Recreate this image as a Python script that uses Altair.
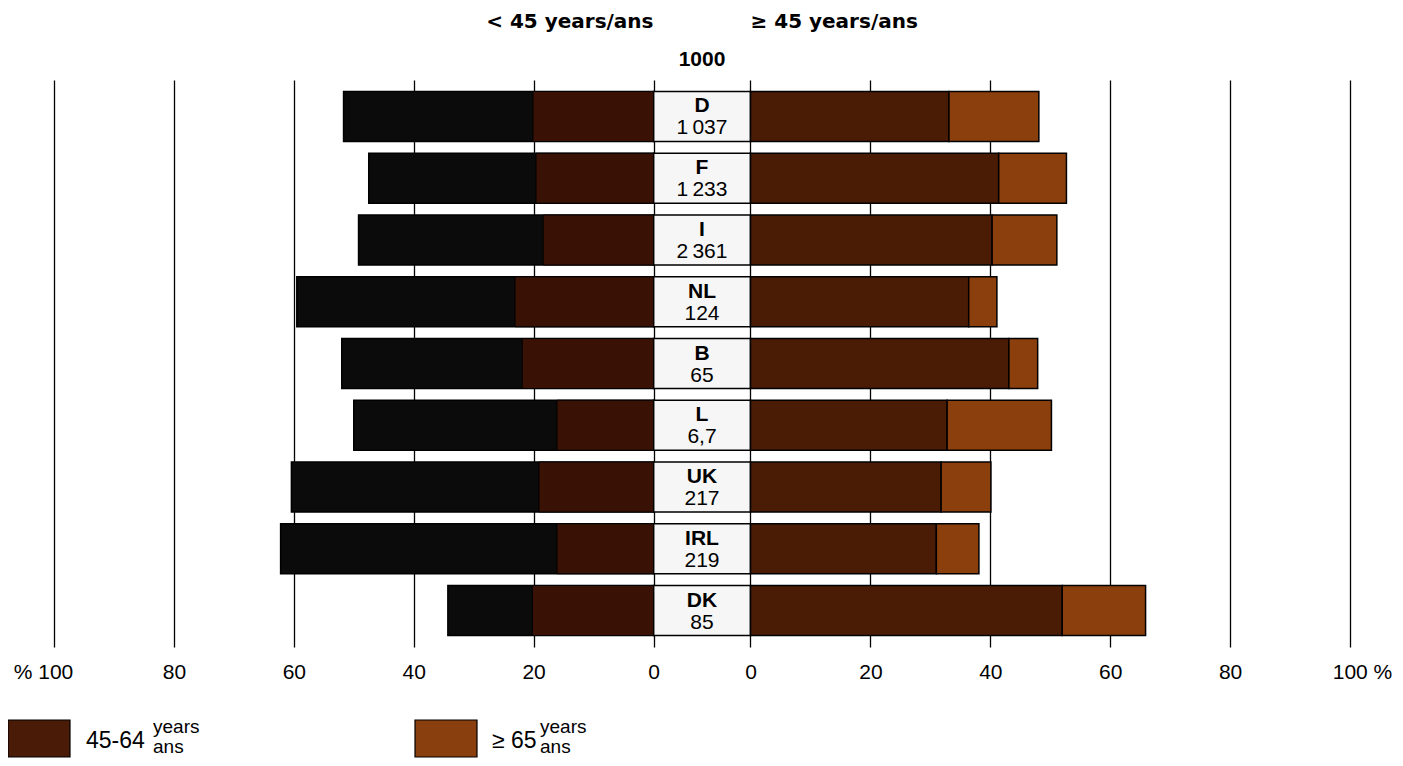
import altair as alt
import pandas as pd

# ---------------- data ----------------
countries = ["D", "F", "I", "NL", "B", "L", "UK", "IRL", "DK"]
holdings = ["1\u2009037", "1\u2009233", "2\u2009361", "124", "65", "6,7", "217", "219", "85"]
under45_total = [51.7, 47.5, 49.2, 59.5, 52.0, 50.0, 60.4, 62.2, 34.3]
under45_inner = [20.1, 19.6, 18.4, 23.1, 21.9, 16.1, 19.1, 16.1, 20.2]
age45_64 = [33.1, 41.4, 40.3, 36.4, 43.1, 32.8, 31.8, 31.0, 52.0]
age65_plus = [15.0, 11.3, 10.8, 4.7, 4.8, 17.4, 8.3, 7.1, 13.9]
tick_values = [0, 20, 40, 60, 80, 100]
header_left = "< 45 years/ans"
header_right = "\u2265 45 years/ans"
unit_label = "1000"
legend_labels = ["45-64", "\u2265 65"]

# ---------------- styling ----------------
G = 8.09  # half width of the centre label column, in % units
C_BLACK = "#0b0b0b"
C_LBROWN = "#3a1205"
C_RBROWN = "#4a1c06"
C_ORANGE = "#8b3f0d"
C_BOX = "#f6f6f6"
FONT = "Liberation Sans"

df = pd.DataFrame({
    "country": countries,
    "holdings": holdings,
    "u45": under45_total,
    "u45_in": under45_inner,
    "a4564": age45_64,
    "a65": age65_plus,
})

base = alt.Chart(df).transform_calculate(
    lb_x=f"-({G} + datum.u45)",
    lb_x2=f"-{G}",
    li_x=f"-({G} + datum.u45_in)",
    r1_x=f"{G}",
    r1_x2=f"{G} + datum.a4564",
    r2_x2=f"{G} + datum.a4564 + datum.a65",
    box_x=f"-{G}",
    box_x2=f"{G}",
    mid="0",
)

xscale = alt.Scale(domain=[-(100 + G), 100 + G], nice=False, zero=False)
yscale = alt.Scale(domain=countries, paddingInner=0.19, paddingOuter=0.186)

x_axis = alt.Axis(
    values=[-(v + G) for v in tick_values] + [v + G for v in tick_values],
    labelExpr=(
        "datum.value < -100 ? '% 100' : (datum.value > 100 ? '100 %' : "
        f"'' + round(abs(datum.value) - {G}))"
    ),
    grid=True, gridColor="black", gridWidth=1.3, gridOpacity=1,
    domain=False, ticks=False, tickSize=0,
    labelFont=FONT, labelFontSize=21, labelColor="black",
    labelPadding=14, labelFlush=False, labelOverlap=False,
    labelOffset={"condition": [{"test": "datum.value < -100", "value": -11},
                               {"test": "datum.value > 100", "value": 12}],
                 "value": 0},
    title=None,
)


def X(field):
    return alt.X(field, type="quantitative", scale=xscale, axis=x_axis, title=None)


def X2(field):
    return alt.X2(field)


Y = alt.Y("country:N", scale=yscale, sort=countries, axis=None)

boxes = base.mark_rect(fill=C_BOX, stroke="black", strokeWidth=1.5).encode(
    x=X("box_x"), x2=X2("box_x2"), y=Y)
left_black = base.mark_bar(fill=C_BLACK, stroke="black", strokeWidth=1.5).encode(
    x=X("lb_x"), x2=X2("lb_x2"), y=Y)
left_brown = base.mark_bar(fill=C_LBROWN, stroke="black", strokeWidth=1.0).encode(
    x=X("li_x"), x2=X2("lb_x2"), y=Y)
right_brown = base.mark_bar(fill=C_RBROWN, stroke="black", strokeWidth=1.5).encode(
    x=X("r1_x"), x2=X2("r1_x2"), y=Y)
right_orange = base.mark_bar(fill=C_ORANGE, stroke="black", strokeWidth=1.5).encode(
    x=X("r1_x2"), x2=X2("r2_x2"), y=Y)

codes = base.mark_text(font=FONT, fontWeight="bold", fontSize=21, dy=-10,
                       baseline="middle", color="black").encode(
    x=X("mid"), y=Y, text="country:N")
nums = base.mark_text(font=FONT, fontSize=21, dy=12, baseline="middle",
                      color="black").encode(
    x=X("mid"), y=Y, text="holdings:N")

hdr = pd.DataFrame({"label": [header_left, header_right, unit_label],
                    "side": [-1, 1, 0]})
hbase = alt.Chart(hdr).transform_calculate(hx=f"datum.side * {G}")
h_left = hbase.transform_filter("datum.side < 0").mark_text(
    font="DejaVu Sans", fontWeight="bold", fontSize=20, align="right",
    baseline="middle", color="black").encode(
    x=X("hx"), y=alt.value(-58), text="label:N")
h_right = hbase.transform_filter("datum.side > 0").mark_text(
    font="DejaVu Sans", fontWeight="bold", fontSize=20, align="left",
    baseline="middle", color="black").encode(
    x=X("hx"), y=alt.value(-58), text="label:N")
h_unit = hbase.transform_filter("datum.side == 0").mark_text(
    font=FONT, fontWeight="bold", fontSize=21, align="center",
    baseline="middle", color="black").encode(
    x=X("hx"), y=alt.value(-20), text="label:N")

# ---------------- legend (drawn below the plot) ----------------
one = pd.DataFrame({"a": [0]})
leg_layers = []
for sx, col, lab, tx, yx in [(-46, "#4a1c08", legend_labels[0], 32, 99),
                             (361, "#8a3f0f", legend_labels[1], 438, 486)]:
    leg_layers.append(alt.Chart(one).mark_rect(fill=col, stroke="black", strokeWidth=1.2).encode(
        x=alt.value(sx), x2=alt.value(sx + 62), y=alt.value(640), y2=alt.value(677)))
    leg_layers.append(alt.Chart(one).mark_text(font=FONT, fontSize=23, align="left",
                                               baseline="middle", color="black").encode(
        x=alt.value(tx), y=alt.value(661), text=alt.value(lab)))
    leg_layers.append(alt.Chart(one).mark_text(font=FONT, fontSize=19, align="left",
                                               baseline="middle", color="black").encode(
        x=alt.value(yx), y=alt.value(647), text=alt.value("years")))
    leg_layers.append(alt.Chart(one).mark_text(font=FONT, fontSize=19, align="left",
                                               baseline="middle", color="black").encode(
        x=alt.value(yx), y=alt.value(667), text=alt.value("ans")))

chart = alt.layer(
    boxes, left_black, left_brown, right_brown, right_orange, codes, nums,
    h_left, h_right, h_unit, *leg_layers
).properties(
    width=1296, height=567,
    padding={"left": 46, "top": 72, "right": 45, "bottom": 111},
    autosize=alt.AutoSizeParams(type="none"),
    background="white",
).configure_view(stroke=None)

chart.save("out.html", embed_options={"renderer": "svg", "actions": False})
